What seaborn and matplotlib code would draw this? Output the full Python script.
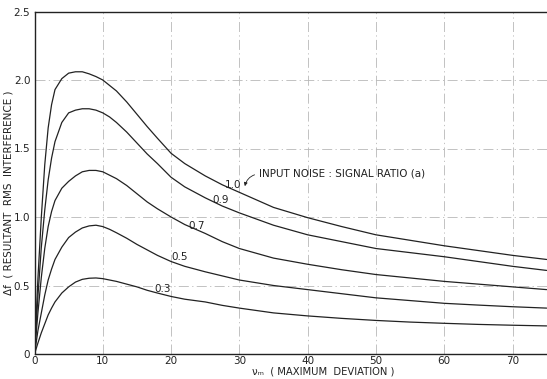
import numpy as np
import pandas as pd
import matplotlib
matplotlib.use("Agg")
import matplotlib.pyplot as plt
import seaborn as sns

# Maximum deviation (abscissa) sample points
deviation = [0, 0.5, 1, 1.5, 2, 2.5, 3, 4, 5, 6, 7, 8, 9, 10, 11, 12, 13.5, 15, 16.5, 18,
             20, 22, 25, 27.5, 30, 35, 40, 45, 50, 55, 60, 65, 70, 75]

# Resultant RMS interference for each input noise:signal ratio
rms_10 = [0, 0.55, 1.00, 1.38, 1.65, 1.82, 1.93, 2.01, 2.05, 2.06, 2.06, 2.045, 2.025, 2.00, 1.96, 1.92,
          1.84, 1.75, 1.66, 1.575, 1.465, 1.39, 1.30, 1.235, 1.18, 1.07, 0.995, 0.93, 0.87, 0.83, 0.79,
          0.755, 0.72, 0.69]
rms_09 = [0, 0.42, 0.78, 1.05, 1.27, 1.43, 1.55, 1.69, 1.76, 1.78, 1.79, 1.79, 1.78, 1.76, 1.73, 1.69,
          1.62, 1.54, 1.46, 1.39, 1.29, 1.22, 1.14, 1.08, 1.03, 0.94, 0.87, 0.82, 0.77, 0.74, 0.71,
          0.675, 0.64, 0.61]
rms_07 = [0, 0.30, 0.56, 0.77, 0.93, 1.04, 1.12, 1.21, 1.26, 1.30, 1.33, 1.34, 1.34, 1.33, 1.305, 1.28,
          1.23, 1.17, 1.11, 1.06, 1.00, 0.945, 0.88, 0.82, 0.77, 0.70, 0.655, 0.615, 0.58, 0.555, 0.53,
          0.51, 0.49, 0.47]
rms_05 = [0, 0.17, 0.30, 0.43, 0.54, 0.62, 0.69, 0.78, 0.85, 0.89, 0.92, 0.935, 0.94, 0.93, 0.91, 0.885,
          0.845, 0.80, 0.76, 0.72, 0.675, 0.64, 0.60, 0.57, 0.54, 0.50, 0.47, 0.44, 0.41, 0.39, 0.37,
          0.357, 0.345, 0.335]
rms_03 = [0, 0.08, 0.155, 0.22, 0.285, 0.335, 0.38, 0.445, 0.49, 0.525, 0.545, 0.553, 0.555, 0.55, 0.54,
          0.53, 0.51, 0.49, 0.465, 0.445, 0.42, 0.40, 0.38, 0.355, 0.335, 0.30, 0.278, 0.26, 0.245,
          0.233, 0.224, 0.216, 0.21, 0.205]

ratio_labels = ["1.0", "0.9", "0.7", "0.5", "0.3"]
series = [rms_10, rms_09, rms_07, rms_05, rms_03]
# where each ratio label sits (deviation, rms)
label_pos = [(29.1, 1.235), (27.2, 1.125), (23.7, 0.935), (21.2, 0.705), (18.8, 0.478)]

x_ticks = [0, 10, 20, 30, 40, 50, 60, 70]
y_ticks = [0, 0.5, 1.0, 1.5, 2.0, 2.5]
y_tick_labels = ["0", "0.5", "1.0", "1.5", "2.0", "2.5"]

frames = []
for lab, vals in zip(ratio_labels, series):
    frames.append(pd.DataFrame({"deviation": deviation, "rms": vals, "ratio": lab}))
df = pd.concat(frames, ignore_index=True)

sns.set_style("white")
plt.rcParams["font.family"] = ["DejaVu Sans"]

ink = "#222222"
fig = plt.figure(figsize=(5.47, 3.79), dpi=100)
ax = fig.add_axes([34.5 / 547, 25 / 379, 512.5 / 547, 342.5 / 379])

# light dash-dot grid
grid_kw = dict(color="#b8b8b8", lw=0.6, dashes=(12, 4, 1.5, 4), zorder=0)
for gx in x_ticks[1:]:
    ax.axvline(gx, **grid_kw)
for gy in y_ticks[1:-1]:
    ax.axhline(gy, **grid_kw)

sns.lineplot(data=df, x="deviation", y="rms", hue="ratio",
             palette=[ink] * 5, linewidth=0.9, legend=False,
             sort=False, estimator=None, ax=ax)

ax.set_xlim(0, 75.05)
ax.set_ylim(0, 2.5)
ax.set_xticks(x_ticks)
ax.set_xticklabels([str(t) for t in x_ticks])
ax.set_yticks(y_ticks)
ax.set_yticklabels(y_tick_labels)
ax.tick_params(length=0, labelsize=7.5, colors=ink)
ax.tick_params(axis="x", pad=1.5)
ax.tick_params(axis="y", pad=3)

for side in ["left", "bottom", "top"]:
    ax.spines[side].set_visible(True)
    ax.spines[side].set_color(ink)
    ax.spines[side].set_linewidth(1.0)
ax.spines["right"].set_visible(False)

for lab, (lx, ly) in zip(ratio_labels, label_pos):
    ax.text(lx, ly, lab, fontsize=7.5, color=ink, ha="center", va="center")

ax.annotate("INPUT NOISE : SIGNAL RATIO (a)", xy=(30.8, 1.225), xytext=(32.9, 1.315),
            fontsize=7.5, color=ink, ha="left", va="center",
            arrowprops=dict(arrowstyle="-|>", color=ink, lw=0.6, relpos=(0, 0.5),
                            connectionstyle="arc3,rad=0.35", mutation_scale=5,
                            shrinkA=1, shrinkB=0))

ax.set_xlabel("νₘ  ( MAXIMUM  DEVIATION )", fontsize=7.2, color=ink, va="top")
ax.xaxis.set_label_coords(0.563, -0.037)
ax.set_ylabel("Δf  ( RESULTANT  RMS  INTERFERENCE )", fontsize=7.5, color=ink)
ax.yaxis.set_label_coords(-0.041, 0.47)

fig.savefig("out.png", dpi=100, facecolor="white")
